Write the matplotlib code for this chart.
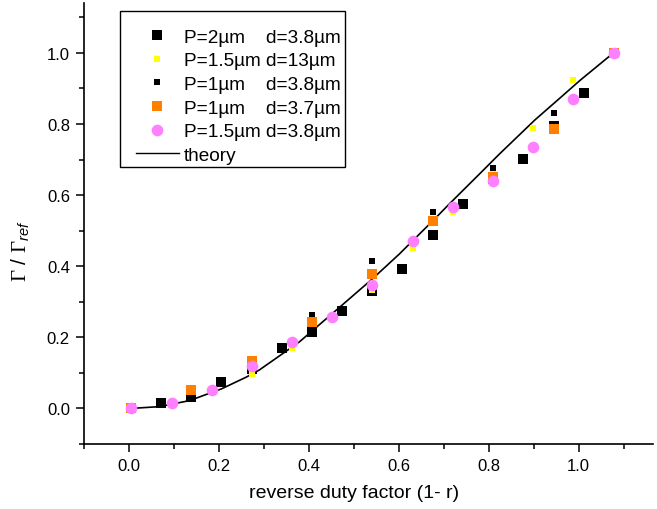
import matplotlib
matplotlib.use("Agg")
import matplotlib.pyplot as plt
from matplotlib.ticker import MultipleLocator
from matplotlib.lines import Line2D
from matplotlib.patches import Rectangle

plt.rcParams["font.family"] = ["Liberation Sans", "DejaVu Sans"]
plt.rcParams["mathtext.fontset"] = "custom"
plt.rcParams["mathtext.rm"] = "Liberation Serif"
plt.rcParams["mathtext.it"] = "Liberation Sans:italic"

# valores (eixo x como desenhado)
x16 = [0.005, 0.072, 0.139, 0.206, 0.273, 0.340, 0.407, 0.474, 0.541,
       0.608, 0.676, 0.742, 0.810, 0.877, 0.944, 1.011, 1.078]
y_p2_d38 = [0.0, 0.016, 0.032, 0.074, 0.112, 0.171, 0.216, 0.274, 0.330,
            0.391, 0.489, 0.574, 0.645, 0.702, 0.795, 0.886, 1.0]

x12 = [0.005, 0.095, 0.184, 0.273, 0.363, 0.452, 0.541, 0.631, 0.720,
       0.810, 0.899, 0.988, 1.078]
y_p15_d13 = [0.0, 0.013, 0.050, 0.098, 0.169, 0.255, 0.332, 0.452, 0.553,
             0.665, 0.790, 0.925, 1.0]
y_p15_d38 = [0.0, 0.014, 0.051, 0.119, 0.188, 0.258, 0.347, 0.471, 0.567,
             0.641, 0.736, 0.871, 1.0]

x8 = [0.005, 0.139, 0.273, 0.407, 0.541, 0.675, 0.810, 0.944, 1.078]
y_p1_d38 = [0.0, 0.040, 0.120, 0.264, 0.416, 0.552, 0.677, 0.832, 1.0]
y_p1_d37 = [0.0, 0.051, 0.133, 0.243, 0.377, 0.527, 0.650, 0.787, 1.0]

theory_x = [0.005, 0.068, 0.135, 0.206, 0.261, 0.290, 0.379, 0.468, 0.541,
            0.601, 0.679, 0.713, 0.779, 0.824, 0.903, 0.959, 1.003, 1.077]
theory_y = [0.0, 0.005, 0.022, 0.055, 0.088, 0.108, 0.187, 0.284, 0.364,
            0.434, 0.532, 0.576, 0.659, 0.716, 0.812, 0.874, 0.923, 1.0]

labels = ["P=2\u00b5m    d=3.8\u00b5m", "P=1.5\u00b5m d=13\u00b5m",
          "P=1\u00b5m    d=3.8\u00b5m", "P=1\u00b5m    d=3.7\u00b5m",
          "P=1.5\u00b5m d=3.8\u00b5m", "theory"]

fig = plt.figure(figsize=(6.57, 5.10), dpi=100)
ax = fig.add_axes([0.1275, 0.1275, 0.8664, 0.8643])

ax.plot(theory_x, theory_y, color="black", lw=1.2, zorder=2)
h1, = ax.plot(x16, y_p2_d38, "s", color="black", ms=7.2, mew=0, ls="none", zorder=3)
h2, = ax.plot(x12, y_p15_d13, "s", color="#ffff00", ms=4.4, mew=0, ls="none", zorder=4)
h3, = ax.plot(x8, y_p1_d38, "s", color="black", ms=4.4, mew=0, ls="none", zorder=5)
h4, = ax.plot(x8, y_p1_d37, "s", color="#ff8000", ms=7.2, mew=0, ls="none", zorder=6)
h5, = ax.plot(x12, y_p15_d38, "o", color="#ff80ff", ms=8.4, mew=0, ls="none", zorder=7)
h6 = Line2D([], [], color="black", lw=1.0)

ax.set_xlim(-0.1, 1.165)
ax.set_ylim(-0.1, 1.14)
ax.xaxis.set_major_locator(MultipleLocator(0.2))
ax.xaxis.set_minor_locator(MultipleLocator(0.1))
ax.yaxis.set_major_locator(MultipleLocator(0.2))
ax.yaxis.set_minor_locator(MultipleLocator(0.1))
ax.xaxis.set_major_formatter(lambda v, p: f"{v:.1f}")
ax.yaxis.set_major_formatter(lambda v, p: f"{v:.1f}")

for s in ["top", "right"]:
    ax.spines[s].set_visible(False)
for s in ["left", "bottom"]:
    ax.spines[s].set_linewidth(1.2)
ax.tick_params(which="major", direction="out", length=6, width=1.1, labelsize=12, pad=4)
ax.tick_params(which="minor", direction="out", length=3.5, width=1.1)

ax.set_xlabel("reverse duty factor (1- r)", fontsize=14, va="center")
ax.xaxis.set_label_coords(0.474, -0.109)
ax.set_ylabel(r"$\Gamma$ / $\Gamma_{\mathit{ref}}$", fontsize=15, va="center")
ax.yaxis.set_label_coords(-0.11, 0.441)

# legenda sem moldura + caixa desenhada a parte
leg = ax.legend([h1, h2, h3, h4, h5, h6], labels, loc="upper left",
                bbox_to_anchor=(136 / 657, 1 - 29.5 / 510),
                bbox_transform=fig.transFigure, frameon=False,
                fontsize=13.7, numpoints=1, handlelength=2.25,
                handletextpad=0.27, borderpad=0, labelspacing=0.33,
                borderaxespad=0)
caixa = Rectangle((120 / 657, (510 - 168) / 510), 225 / 657, 156 / 510,
                  transform=fig.transFigure, fill=False, edgecolor="black",
                  lw=1.0, zorder=10)
fig.add_artist(caixa)

fig.savefig("out.png", dpi=100)
